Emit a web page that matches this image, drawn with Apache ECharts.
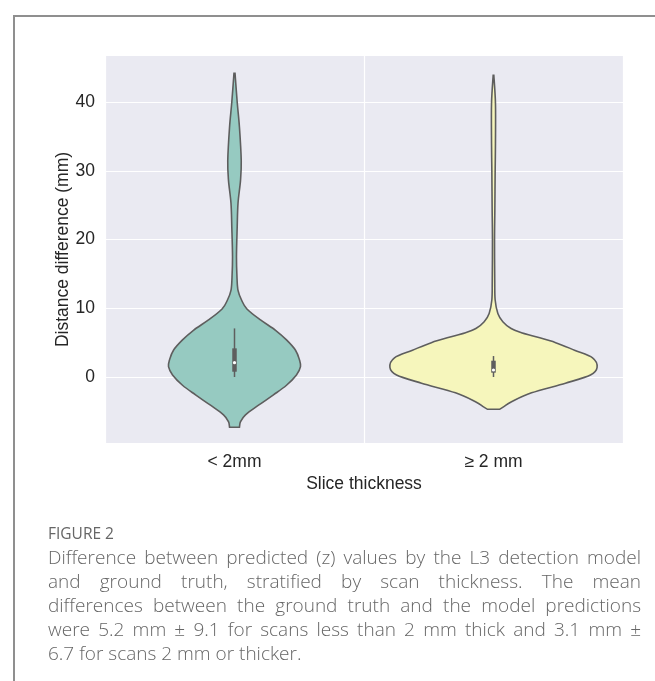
<!DOCTYPE html>
<html>
<head>
<meta charset="utf-8">
<script src="https://cdn.jsdelivr.net/npm/echarts@6/dist/echarts.min.js"></script>
<style>
  html, body { margin: 0; padding: 0; background: #fff; width: 655px; height: 681px; overflow: hidden; }
  #frame { position: absolute; left: 13px; top: 15px; width: 650px; height: 680px;
           border-top: 2px solid #8f8f8f; border-left: 2px solid #8f8f8f; box-sizing: border-box; }
  #chart { position: absolute; left: 0; top: 0; width: 655px; height: 681px; }
  .cap { position: absolute; left: 48px; width: 593px; font-family: 'Open Sans', 'Noto Sans', sans-serif;
         color: #666; font-size: 19px; line-height: 24px; font-weight: 300; white-space: nowrap; }
  .just { text-align: justify; text-align-last: justify; white-space: normal; }
  .fig { font-size: 15.5px; font-weight: 400; color: #666; }
</style>
</head>
<body>
<div id="frame"></div>
<div id="chart"></div>
<div class="cap fig" style="top:521px;">FIGURE 2</div>
<div class="cap just" style="top:545px;">Difference between predicted (z) values by the L3 detection model</div>
<div class="cap just" style="top:569px;">and ground truth, stratified by scan thickness. The mean</div>
<div class="cap just" style="top:593px;">differences between the ground truth and the model predictions</div>
<div class="cap just" style="top:617px;">were 5.2 mm ± 9.1 for scans less than 2 mm thick and 3.1 mm ±</div>
<div class="cap" style="top:641px;">6.7 for scans 2 mm or thicker.</div>
<script>
// ---- data ----
const categories = ['< 2mm', '≥ 2 mm'];
// violin profiles: y values (mm) and relative half-widths (1 = widest violin)
const violin1Y = [-7.3, -6.5, -5.5, -4.1, -2.6, -1.2, 0.3, 1.5, 2.5, 3.9, 5.4, 6.8, 8.3, 9.9, 11.2, 12.6, 14.5, 17.5, 21.8, 25.3, 28.6, 31.5, 36.3, 40.0, 44.2];
const violin1W = [0.048, 0.058, 0.106, 0.232, 0.376, 0.502, 0.598, 0.637, 0.627, 0.589, 0.502, 0.396, 0.251, 0.120, 0.068, 0.034, 0.024, 0.019, 0.026, 0.034, 0.058, 0.065, 0.048, 0.026, 0.005];
const violin2Y = [-4.7, -4.3, -3.6, -2.3, -0.9, 0.3, 1.4, 2.8, 3.9, 5.0, 5.9, 6.45, 7.05, 8.05, 9.25, 11.2, 14.0, 19.9, 24.3, 30.0, 34.0, 39.8, 43.9];
const violin2W = [0.058, 0.10, 0.174, 0.367, 0.695, 0.936, 1.0, 0.956, 0.782, 0.60, 0.40, 0.27, 0.17, 0.090, 0.042, 0.016, 0.012, 0.010, 0.013, 0.016, 0.019, 0.019, 0.003];
// inner box: [whisker low, q1, median, q3, whisker high]
const box1 = [0.0, 0.77, 2.08, 4.17, 7.07];
const box2 = [0.0, 0.63, 1.02, 2.37, 3.05];
const yTicks = [0, 10, 20, 30, 40];

const fills = ['#96cac1', '#f6f6bc'];
const lineColor = '#5e5e5e';
const FONT = "'Liberation Sans', Arial, sans-serif";

const profiles = [[violin1Y, violin1W, box1], [violin2Y, violin2W, box2]];

function smoothSeg(pts) {
  let d = '';
  for (let i = 0; i < pts.length - 1; i++) {
    const p0 = pts[i - 1] || pts[i];
    const p1 = pts[i];
    const p2 = pts[i + 1];
    const p3 = pts[i + 2] || p2;
    const t = 1 / 6;
    const c1x = p1[0] + (p2[0] - p0[0]) * t, c1y = p1[1] + (p2[1] - p0[1]) * t;
    const c2x = p2[0] - (p3[0] - p1[0]) * t, c2y = p2[1] - (p3[1] - p1[1]) * t;
    d += ' C' + c1x + ',' + c1y + ' ' + c2x + ',' + c2y + ' ' + p2[0] + ',' + p2[1];
  }
  return d;
}

function renderItem(params, api) {
  const idx = api.value(0);
  const [ys, ws, box] = profiles[idx];
  const band = api.size([1, 0])[0];
  const scale = band * 0.4;
  const cx = api.coord([idx, 0])[0];
  const right = ys.map((y, i) => [cx + ws[i] * scale, api.coord([idx, y])[1]]);
  const left = ys.map((y, i) => [cx - ws[i] * scale, api.coord([idx, y])[1]]).reverse();
  let d = 'M' + right[0][0] + ',' + right[0][1] + smoothSeg(right);
  d += ' L' + left[0][0] + ',' + left[0][1] + smoothSeg(left) + ' Z';
  const yp = v => api.coord([idx, v])[1];
  return {
    type: 'group',
    children: [
      { type: 'path', shape: { pathData: d },
        style: { fill: fills[idx], stroke: lineColor, lineWidth: 1.6 } },
      { type: 'line', shape: { x1: cx, y1: yp(box[0]), x2: cx, y2: yp(box[4]) },
        style: { stroke: lineColor, lineWidth: 1.5 } },
      { type: 'line', shape: { x1: cx, y1: yp(box[1]), x2: cx, y2: yp(box[3]) },
        style: { stroke: lineColor, lineWidth: 4.5 } },
      { type: 'circle', shape: { cx: cx, cy: yp(box[2]), r: 1.6 },
        style: { fill: '#ffffff' } }
    ]
  };
}

const chart = echarts.init(document.getElementById('chart'), null, { renderer: 'canvas' });
chart.setOption({
  animation: false,
  grid: { left: 105, right: 32, top: 56, bottom: 238, show: true, backgroundColor: '#eaeaf2', borderWidth: 0 },
  xAxis: {
    type: 'category', data: categories,
    axisLine: { show: false }, axisTick: { show: false },
    splitLine: { show: true, lineStyle: { color: '#ffffff', width: 1.2 } },
    axisLabel: { color: '#262626', fontSize: 17.5, margin: 10, fontFamily: FONT },
    name: 'Slice thickness', nameLocation: 'middle', nameGap: 32.5, nameMoveOverlap: false,
    nameTextStyle: { color: '#262626', fontSize: 17.5, fontFamily: FONT }
  },
  yAxis: {
    type: 'value', min: -9.6, max: 46.7, splitNumber: 5,
    axisLine: { show: false }, axisTick: { show: false },
    splitLine: { show: true, showMinLine: false, showMaxLine: false, lineStyle: { color: '#ffffff', width: 1.2 } },
    axisLabel: {
      color: '#262626', fontSize: 17.5, margin: 10, fontFamily: FONT,
      showMinLabel: false, showMaxLabel: false,
      formatter: v => (yTicks.some(t => Math.abs(t - v) < 1e-6) ? String(Math.round(v)) : '')
    },
    name: 'Distance difference (mm)', nameLocation: 'middle', nameGap: 33, nameRotate: 90, nameMoveOverlap: false,
    nameTextStyle: { color: '#262626', fontSize: 17.5, fontFamily: FONT }
  },
  series: [{
    type: 'custom', renderItem: renderItem,
    data: [[0, 0], [1, 0]], encode: { x: 0, y: 1 }, silent: true
  }]
});
</script>
</body>
</html>
